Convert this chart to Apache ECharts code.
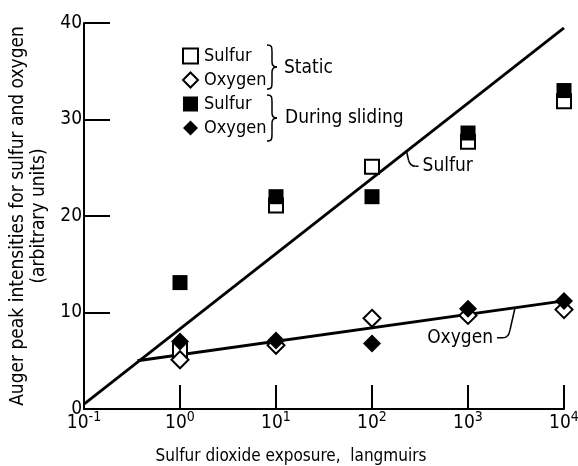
<!DOCTYPE html>
<html>
<head>
<meta charset="utf-8">
<script src="https://cdn.jsdelivr.net/npm/echarts@6/dist/echarts.min.js"></script>
<style>
html, body { margin: 0; padding: 0; background: #fff; }
#chart { width: 578px; height: 466px; }
</style>
</head>
<body>
<div id="chart"></div>
<script>
// exposure in langmuirs (log axis)
const exposure = [1, 10, 100, 1000, 10000]
const staticSulfur = [6.1, 21.1, 25.1, 27.7, 31.9]
const staticOxygen = [5.1, 6.6, 9.4, 9.7, 10.3]
const slidingSulfur = [13.1, 22.0, 22.0, 28.6, 33.0]
const slidingOxygen = [7.0, 7.1, 6.8, 10.4, 11.2]
// hand drawn fit lines
const sulfurFit = [[0.1, 0.5], [10000, 39.5]]
const oxygenFit = [[0.36, 5.0], [10000, 11.2]]
const yTicks = [0, 10, 20, 30, 40]

const FONT = "'DejaVu Sans Condensed', 'DejaVu Sans', sans-serif"
const NUM_FONT = "'Liberation Sans Narrow', 'DejaVu Sans Condensed', sans-serif"

const pairs = vals => exposure.map((x, i) => [x, vals[i]])

const chart = echarts.init(document.getElementById('chart'), null, { renderer: 'canvas' })

const openStyle = { color: '#fff', borderColor: '#000', borderWidth: 2, opacity: 1 }
const filledStyle = { color: '#000', borderColor: '#000', borderWidth: 0, opacity: 1 }

const option = {
  backgroundColor: '#fff',
  animation: false,
  textStyle: { fontFamily: FONT, color: '#000' },
  grid: { left: 84, right: 14, top: 23, bottom: 57, containLabel: false, outerBoundsMode: 'none' },
  legend: {
    orient: 'vertical',
    left: 177,
    top: 42,
    itemWidth: 15,
    itemHeight: 15,
    itemGap: 6,
    selectedMode: false,
    data: ['Sulfur', 'Oxygen', 'Sulfur ', 'Oxygen '],
    formatter: n => n.trim(),
    textStyle: { fontFamily: FONT, fontSize: 18, color: '#000', padding: [0, 0, 0, 1] }
  },
  xAxis: {
    type: 'log',
    logBase: 10,
    min: 0.1,
    max: 10000,
    name: 'Sulfur dioxide exposure,  langmuirs',
    nameLocation: 'middle',
    nameGap: 39,
    nameTextStyle: { fontFamily: FONT, fontSize: 17, color: '#000', padding: [0, 66, 0, 0] },
    axisLine: { lineStyle: { color: '#000', width: 2 } },
    axisTick: { inside: true, length: 24, lineStyle: { color: '#000', width: 2 } },
    minorTick: { show: false },
    splitLine: { show: false },
    axisLabel: {
      margin: 1,
      formatter: v => '{b|10}{s|' + Math.round(Math.log10(v)) + '}',
      rich: {
        b: { fontFamily: NUM_FONT, fontSize: 19, color: '#000' },
        s: { fontFamily: NUM_FONT, fontSize: 14, color: '#000', padding: [0, 0, 12, 0] }
      }
    }
  },
  yAxis: {
    type: 'value',
    min: yTicks[0],
    max: yTicks[yTicks.length - 1],
    interval: 10,
    name: 'Auger peak intensities for sulfur and oxygen\n(arbitrary units)',
    nameLocation: 'middle',
    nameRotate: 90,
    nameGap: 31,
    nameTextStyle: { fontFamily: FONT, fontSize: 19, lineHeight: 21, color: '#000' },
    axisLine: { show: true, lineStyle: { color: '#000', width: 2 } },
    axisTick: { show: true, inside: true, length: 26, lineStyle: { color: '#000', width: 2 } },
    splitLine: { show: false },
    axisLabel: { margin: 2, fontFamily: NUM_FONT, fontSize: 19, color: '#000' }
  },
  series: [
    {
      name: 'sulfur fit', type: 'line', data: sulfurFit, symbol: 'none', silent: true,
      lineStyle: { color: '#000', width: 2.8 }, z: 1
    },
    {
      name: 'oxygen fit', type: 'line', data: oxygenFit, symbol: 'none', silent: true,
      lineStyle: { color: '#000', width: 2.8 }, z: 1
    },
    { name: 'Sulfur', type: 'scatter', symbol: 'rect', symbolSize: 14, data: pairs(staticSulfur), itemStyle: openStyle },
    { name: 'Oxygen', type: 'scatter', symbol: 'diamond', symbolSize: [17, 17], data: pairs(staticOxygen), itemStyle: openStyle },
    { name: 'Sulfur ', type: 'scatter', symbol: 'rect', symbolSize: 15, data: pairs(slidingSulfur), itemStyle: filledStyle },
    { name: 'Oxygen ', type: 'scatter', symbol: 'diamond', symbolSize: [18, 18], data: pairs(slidingOxygen), itemStyle: filledStyle }
  ]
}
chart.setOption(option)

const stroke = { fill: 'none', stroke: '#000', lineWidth: 1.5 }

// a curly brace "}" of height h with its top-left corner at (x, y)
function brace(x, y, h) {
  const m = y + h / 2
  const b = y + h
  return [
    { type: 'bezierCurve', shape: { x1: x, y1: y, cpx1: x + 5, cpy1: y, cpx2: x + 5, cpy2: y + 2, x2: x + 5, y2: y + 7 }, style: stroke },
    { type: 'line', shape: { x1: x + 5, y1: y + 7, x2: x + 5, y2: m - 5 }, style: stroke },
    { type: 'bezierCurve', shape: { x1: x + 5, y1: m - 5, cpx1: x + 5, cpy1: m - 1, cpx2: x + 7, cpy2: m, x2: x + 10, y2: m }, style: stroke },
    { type: 'bezierCurve', shape: { x1: x + 10, y1: m, cpx1: x + 7, cpy1: m, cpx2: x + 5, cpy2: m + 1, x2: x + 5, y2: m + 5 }, style: stroke },
    { type: 'line', shape: { x1: x + 5, y1: m + 5, x2: x + 5, y2: b - 7 }, style: stroke },
    { type: 'bezierCurve', shape: { x1: x + 5, y1: b - 7, cpx1: x + 5, cpy1: b - 2, cpx2: x + 5, cpy2: b, x2: x, y2: b }, style: stroke }
  ]
}

// annotations: anchor sits on a fit line, hook and text are pixel offsets
const sA = chart.convertToPixel({ seriesIndex: 0 }, [229, 0.5 + 7.8 * (Math.log10(229) + 1)])
const oA = chart.convertToPixel({ seriesIndex: 0 }, [3090, 5.0 + 6.2 * (Math.log10(3090) + 0.444) / 4.444])

const textStyle = { fontFamily: FONT, fontSize: 19, fill: '#000', verticalAlign: 'middle' }

chart.setOption({
  graphic: [
    ...brace(267, 45, 44),
    ...brace(267, 95, 46),
    { type: 'text', x: 284, y: 68, style: Object.assign({ text: 'Static' }, textStyle) },
    { type: 'text', x: 285, y: 118, style: Object.assign({ text: 'During sliding' }, textStyle) },
    { type: 'line', shape: { x1: sA[0], y1: sA[1], x2: sA[0] + 2, y2: sA[1] + 9 }, style: stroke },
    { type: 'bezierCurve', shape: { x1: sA[0] + 2, y1: sA[1] + 9, cpx1: sA[0] + 3, cpy1: sA[1] + 13, cpx2: sA[0] + 5, cpy2: sA[1] + 15, x2: sA[0] + 9, y2: sA[1] + 15 }, style: stroke },
    { type: 'line', shape: { x1: sA[0] + 9, y1: sA[1] + 15, x2: sA[0] + 12, y2: sA[1] + 15 }, style: stroke },
    { type: 'text', x: sA[0] + 16, y: sA[1] + 15, style: Object.assign({ text: 'Sulfur' }, textStyle) },
    { type: 'line', shape: { x1: oA[0], y1: oA[1], x2: oA[0] - 5, y2: oA[1] + 22 }, style: stroke },
    { type: 'bezierCurve', shape: { x1: oA[0] - 5, y1: oA[1] + 22, cpx1: oA[0] - 6, cpy1: oA[1] + 28, cpx2: oA[0] - 8, cpy2: oA[1] + 30, x2: oA[0] - 12, y2: oA[1] + 30 }, style: stroke },
    { type: 'line', shape: { x1: oA[0] - 12, y1: oA[1] + 30, x2: oA[0] - 18, y2: oA[1] + 30 }, style: stroke },
    { type: 'text', x: oA[0] - 22, y: oA[1] + 30, style: Object.assign({ text: 'Oxygen', align: 'right' }, textStyle) }
  ]
})
</script>
</body>
</html>
